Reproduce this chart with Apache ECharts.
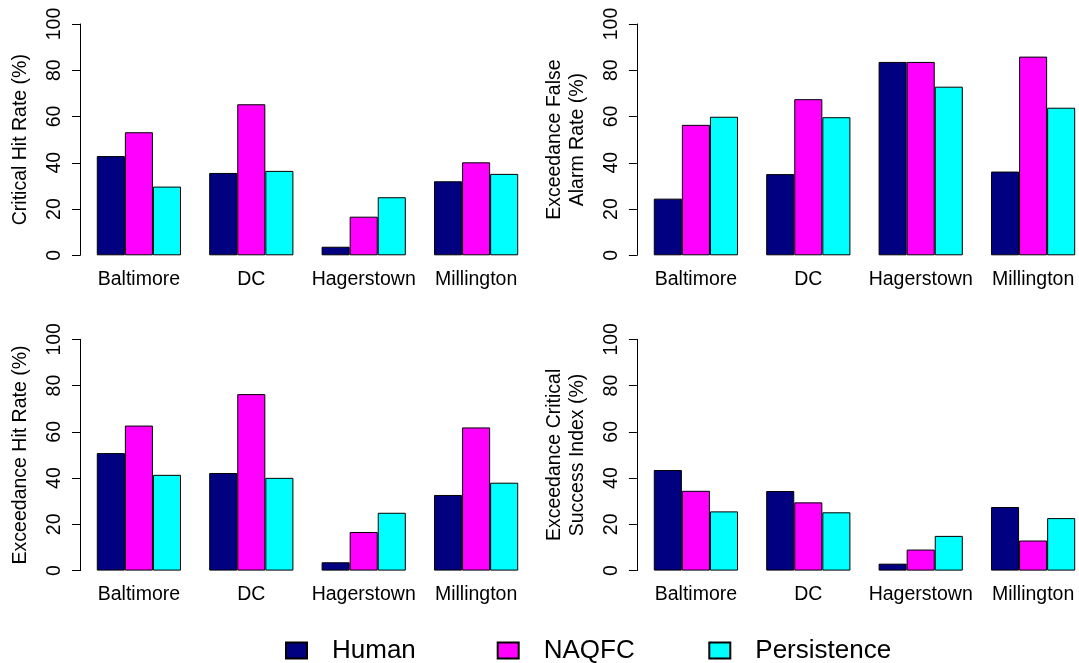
<!DOCTYPE html>
<html><head><meta charset="utf-8">
<script src="https://cdn.jsdelivr.net/npm/echarts@6/dist/echarts.min.js"></script>
<style>html,body{margin:0;padding:0;background:#fff}#c{width:1079px;height:663px}</style>
</head><body><div id="c"></div>
<script>
const categories = ['Baltimore', 'DC', 'Hagerstown', 'Millington'];
const seriesNames = ['Human', 'NAQFC', 'Persistence'];
const yMin = 0, yMax = 100, yStep = 20;

const critHitHuman   = [42.9, 35.6, 3.7, 32.0];
const critHitNaqfc   = [53.2, 65.3, 16.7, 40.2];
const critHitPersist = [29.7, 36.5, 25.1, 35.2];

const excFarHuman    = [24.5, 35.1, 83.6, 36.2];
const excFarNaqfc    = [56.4, 67.5, 83.6, 85.9];
const excFarPersist  = [59.9, 59.7, 72.9, 63.8];

const excHitHuman    = [50.8, 42.2, 3.6, 32.7];
const excHitNaqfc    = [62.7, 76.3, 16.7, 61.9];
const excHitPersist  = [41.4, 40.1, 25.0, 38.0];

const excCsiHuman    = [43.5, 34.4, 3.0, 27.5];
const excCsiNaqfc    = [34.5, 29.5, 9.1, 13.0];
const excCsiPersist  = [25.6, 25.2, 15.0, 22.7];

const panelTitles = ['Critical Hit Rate (%)', 'Exceedance False\nAlarm Rate (%)', 'Exceedance Hit Rate (%)', 'Exceedance Critical\nSuccess Index (%)'];
const panelData = [
  [critHitHuman, critHitNaqfc, critHitPersist],
  [excFarHuman, excFarNaqfc, excFarPersist],
  [excHitHuman, excHitNaqfc, excHitPersist],
  [excCsiHuman, excCsiNaqfc, excCsiPersist]
];
const colors = ['#000080', '#FF00FF', '#00FFFF'];

const FONT = 'Liberation Sans, Arial, sans-serif';
const FS = 19.5;
const colLeft = [82.7, 639.7];
const axisOffset = [2.7, 2.8];
const rowTop = [24, 339.3];
const gridW = 449.6, gridH = 231.3;

const grids = [], xAxes = [], yAxes = [], series = [];
for (let p = 0; p < 4; p++) {
  const col = p % 2, row = Math.floor(p / 2);
  grids.push({left: colLeft[col], top: rowTop[row], width: gridW, height: gridH, containLabel: false, outerBoundsMode: 'none'});
  xAxes.push({
    type: 'category', gridIndex: p, data: categories,
    axisLine: {show: false}, axisTick: {show: false},
    axisLabel: {color: '#000', fontSize: FS, fontFamily: FONT, margin: 14, interval: 0}
  });
  yAxes.push({
    type: 'value', gridIndex: p, min: yMin, max: yMax, interval: yStep,
    offset: axisOffset[col],
    axisLine: {show: true, lineStyle: {color: '#000', width: 1}},
    axisTick: {show: true, length: 8, lineStyle: {color: '#000', width: 1}},
    splitLine: {show: false},
    axisLabel: {color: '#000', fontSize: FS, fontFamily: FONT, rotate: 90, margin: 15},
    name: panelTitles[p], nameLocation: 'middle', nameGap: 48,
    nameTextStyle: {color: '#000', fontSize: FS, fontFamily: FONT, lineHeight: 23}
  });
  for (let k = 0; k < 3; k++) {
    series.push({
      type: 'bar', name: seriesNames[k], xAxisIndex: p, yAxisIndex: p,
      data: panelData[p][k], barWidth: 28.07, barGap: '0%',
      itemStyle: {color: colors[k], borderColor: '#000', borderWidth: 1},
      emphasis: {disabled: true}, silent: true
    });
  }
}

const legendLeft = [285, 496.7, 708.3];
const legends = seriesNames.map((n, i) => ({
  data: [n], left: legendLeft[i], top: 637.5, padding: 0,
  orient: 'horizontal', icon: 'rect', itemWidth: 21, itemHeight: 16,
  textStyle: {color: '#000', fontSize: 26, fontFamily: FONT, padding: [0, 0, 0, 20]},
  selectedMode: false
}));

const chart = echarts.init(document.getElementById('c'), null, {renderer: 'canvas'});
chart.setOption({
  animation: false,
  backgroundColor: '#fff',
  grid: grids, xAxis: xAxes, yAxis: yAxes, series: series, legend: legends
});
</script></body></html>
